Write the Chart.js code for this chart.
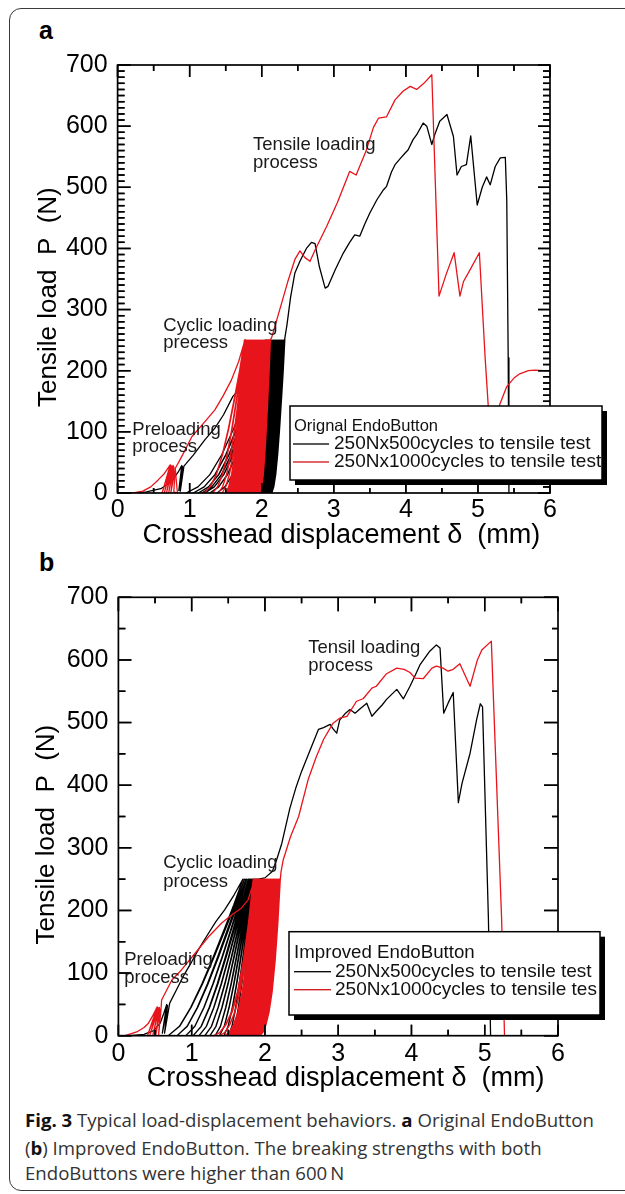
<!DOCTYPE html>
<html>
<head>
<meta charset="utf-8">
<script src="https://cdn.jsdelivr.net/npm/chart.js@4.4.0/dist/chart.umd.min.js"></script>
<style>
  html, body { margin: 0; padding: 0; background: #fff; overflow: hidden; }
  body { width: 625px; height: 1194px; position: relative; }
  #frame { position: absolute; left: 9px; top: 8px; width: 660px; height: 1181px; border: 1.5px solid #3a3a3a; border-radius: 12px; }
  canvas { position: absolute; left: 0; }
  #cA { top: 0; }
  #cB { top: 560px; }
  svg.ticks { position: absolute; left: 0; pointer-events: none; }
  .plabel { position: absolute; left: 39px; font: bold 25px "Liberation Sans", Arial, sans-serif; line-height: 28px; color: #000; }
  .cap { position: absolute; left: 25px; white-space: nowrap; font-family: "Open Sans", "Noto Sans", sans-serif; font-size: 17px; line-height: 20px; color: #333; }
  .cap b { font-weight: 700; color: #111; }
</style>
</head>
<body>
<div id="frame"></div>
<div class="plabel" style="top:16px">a</div>
<div class="plabel" style="top:548px">b</div>
<canvas id="cA" width="625" height="560"></canvas>
<canvas id="cB" width="625" height="540"></canvas>
<div class="cap" id="cap1" style="top:1110px"><b>Fig. 3</b> Typical load-displacement behaviors. <b>a</b> Original EndoButton</div>
<div class="cap" id="cap2" style="top:1138px">(<b>b</b>) Improved EndoButton. The breaking strengths with both</div>
<div class="cap" id="cap3" style="top:1163px">EndoButtons were higher than 600&#8201;N</div>
<script>
// ---------- tick labels ----------
const xTickLabels = ['0', '1', '2', '3', '4', '5', '6'];
const yTickLabels = ['0', '100', '200', '300', '400', '500', '600', '700'];
const xMajorTicks = [0, 1, 2, 3, 4, 5, 6];
const xMinorTicks = [0.5, 1.5, 2.5, 3.5, 4.5, 5.5];
const yMajorTicks = [0, 100, 200, 300, 400, 500, 600, 700];
const yMinorTicksA = [];
for (let v = 10; v < 700; v += 10) if (v % 100 !== 0) yMinorTicksA.push(v);
const yMinorTicksB = [50, 150, 250, 350, 450, 550, 650];

// ---------- series names ----------
const legendTitleA = 'Orignal EndoButton';
const legendTitleB = 'Improved EndoButton';
const seriesNamesA = ['250Nx500cycles to tensile test', '250Nx1000cycles to tensile test'];
const seriesNamesB = ['250Nx500cycles to tensile test', '250Nx1000cycles to tensile tes'];

// ---------- cyclic loading ----------
const cyclePeak = 250;
const loopShapeF = [0, 0.15, 0.3, 0.45, 0.6, 0.75, 0.88, 1];
const loopShapePA = [0, 0.04, 0.12, 0.25, 0.42, 0.62, 0.8, 1];
const loopShapePRedB = [0, 0.02, 0.07, 0.15, 0.28, 0.48, 0.72, 1];
const loopShapePBlackB = [0, 0.06, 0.18, 0.33, 0.5, 0.68, 0.84, 1];

// ---------- panel a : black (500 cycles) ----------
const blackPreA = [[0,0],[0.20,0],[0.40,2],[0.60,7],[0.74,18],[0.84,34],[0.89,45],[0.85,4],[0.90,43],[0.87,3],[0.92,44],[0.95,48],[1.05,62],[1.21,87],[1.35,106],[1.47,128],[1.60,158],[1.68,168],[1.80,192],[1.92,220],[2.05,250]];
const blackCycleStartA = [0.95,1.05,1.12,1.17,1.21,1.28,1.38,1.50,1.65,1.80,1.93,1.94,1.95,1.96,1.97,1.97,1.98,1.99,2.00,2.01,2.01,2.02,2.03,2.04,2.05,2.05,2.06,2.07,2.08,2.09,2.09,2.10,2.11,2.12,2.13,2.14];
const blackCycleTopA = [2.05,2.06,2.07,2.08,2.09,2.10,2.10,2.11,2.11,2.12,2.12,2.13,2.14,2.15,2.16,2.16,2.17,2.18,2.19,2.20,2.20,2.21,2.22,2.23,2.24,2.24,2.25,2.26,2.27,2.28,2.28,2.29,2.30,2.31,2.32,2.32];
const blackTensileA = [[2.32,253],[2.35,275],[2.40,320],[2.46,360],[2.53,379],[2.62,400],[2.69,410],[2.74,408],[2.80,370],[2.88,335],[2.92,338],[3.02,365],[3.13,392],[3.22,410],[3.29,422],[3.36,420],[3.43,440],[3.50,458],[3.60,480],[3.69,496],[3.73,501],[3.80,525],[3.85,537],[3.93,548],[3.99,556],[4.03,561],[4.10,578],[4.15,586],[4.24,605],[4.29,600],[4.36,570],[4.40,586],[4.47,608],[4.57,619],[4.66,583],[4.71,520],[4.77,534],[4.84,537],[4.90,584],[4.99,471],[5.06,500],[5.12,517],[5.17,504],[5.24,534],[5.31,548],[5.38,549],[5.40,479],[5.42,221],[5.43,0]];

// ---------- panel a : red (1000 cycles) ----------
const redPreA = [[0,0],[0.22,0],[0.35,3],[0.46,10],[0.56,21],[0.65,32],[0.73,46],[0.62,1],[0.74,45],[0.65,1],[0.75,44],[0.68,1],[0.77,45],[0.71,1],[0.78,43],[0.74,1],[0.80,41],[0.78,2],[0.83,0],[0.80,40],[0.90,62],[1.03,92],[1.20,115],[1.35,136],[1.47,160],[1.58,185],[1.68,215],[1.77,251]];
const redCycleStartA = [1.20,1.32,1.40,1.45,1.50,1.52,1.54,1.56,1.58,1.60,1.62,1.63,1.65,1.66,1.68,1.69,1.71,1.72,1.73,1.75,1.76,1.77,1.78,1.79,1.81,1.82,1.83,1.84,1.85,1.86,1.87,1.88,1.89,1.90,1.91,1.92,1.93,1.94,1.95,1.96,1.97,1.98];
const redCycleTopA = [1.76,1.77,1.78,1.79,1.77,1.78,1.79,1.80,1.81,1.82,1.83,1.84,1.85,1.86,1.87,1.88,1.89,1.90,1.91,1.92,1.93,1.94,1.95,1.96,1.97,1.98,1.99,2.00,2.01,2.02,2.03,2.04,2.05,2.06,2.07,2.07,2.08,2.09,2.10,2.10,2.11,2.12];
const redTensileA = [[2.14,255],[2.25,300],[2.36,345],[2.46,382],[2.53,396],[2.60,385],[2.67,379],[2.75,400],[2.90,436],[3.05,475],[3.22,526],[3.31,520],[3.45,560],[3.55,598],[3.62,613],[3.73,615],[3.85,643],[3.96,657],[4.06,665],[4.15,660],[4.25,670],[4.36,684],[4.46,322],[4.56,358],[4.67,393],[4.75,322],[4.80,346],[4.89,365],[5.02,393],[5.10,221],[5.15,130],[5.22,60],[5.30,144],[5.40,174],[5.50,188],[5.58,195],[5.70,200],[5.79,201],[5.90,200],[6.00,200]];

// ---------- panel b : black (500 cycles) ----------
const blackPreB = [[0,0],[0.15,0],[0.35,2],[0.48,8],[0.57,20],[0.62,36],[0.66,50],[0.60,4],[0.67,48],[0.63,4],[0.70,52],[0.80,75],[0.90,98],[1.00,118],[1.09,137],[1.20,158],[1.33,182],[1.45,201],[1.58,225],[1.70,250]];
const blackCycleStartB = [0.68,0.80,0.92,1.02,1.10,1.18,1.25,1.32,1.38,1.44,1.50,1.55,1.60,1.64,1.68,1.72,1.76,1.80];
const blackCycleTopB = [1.72,1.74,1.75,1.77,1.78,1.79,1.80,1.81,1.82,1.83,1.84,1.85,1.86,1.87,1.88,1.89,1.90,1.91];
const blackTensileB = [[2.00,252],[2.10,262],[2.16,281],[2.23,307],[2.34,363],[2.42,395],[2.50,422],[2.62,457],[2.73,489],[2.80,492],[2.89,497],[2.93,490],[2.98,483],[3.02,504],[3.10,515],[3.16,521],[3.23,515],[3.30,522],[3.39,531],[3.46,510],[3.52,518],[3.60,528],[3.66,537],[3.73,545],[3.80,553],[3.89,538],[3.98,558],[4.05,575],[4.12,593],[4.25,614],[4.34,624],[4.39,619],[4.44,515],[4.50,531],[4.57,548],[4.64,372],[4.69,403],[4.80,451],[4.89,505],[4.94,530],[4.97,525],[5.05,188],[5.08,0]];

// ---------- panel b : red (1000 cycles) ----------
const redPreB = [[0,0],[0.09,0],[0.25,6],[0.35,13],[0.41,20],[0.47,32],[0.53,46],[0.40,1],[0.54,45],[0.43,1],[0.55,44],[0.47,1],[0.56,45],[0.51,1],[0.57,42],[0.55,2],[0.58,40],[0.59,57],[0.73,89],[0.86,105],[1.05,132],[1.23,158],[1.41,180],[1.55,193],[1.68,204],[1.77,217],[1.86,250]];
const redCycleStartB = [1.30,1.38,1.45,1.47,1.49,1.51,1.53,1.55,1.57,1.59,1.61,1.63,1.64,1.66,1.67,1.69,1.70,1.72,1.73,1.74,1.76,1.77,1.78,1.79,1.80,1.81,1.82,1.83,1.84,1.85,1.86,1.87,1.88,1.89,1.90,1.91,1.92,1.93];
const redCycleTopB = [1.84,1.85,1.86,1.87,1.88,1.89,1.90,1.91,1.92,1.93,1.94,1.95,1.96,1.97,1.98,1.99,2.00,2.01,2.02,2.03,2.04,2.05,2.06,2.07,2.08,2.09,2.10,2.11,2.12,2.13,2.14,2.15,2.16,2.17,2.18,2.19,2.20,2.21];
const redTensileB = [[2.22,262],[2.25,281],[2.35,318],[2.46,350],[2.59,409],[2.70,445],[2.80,473],[2.93,499],[3.02,507],[3.12,510],[3.25,534],[3.34,538],[3.46,555],[3.52,558],[3.66,578],[3.80,587],[3.90,585],[3.98,580],[4.05,571],[4.16,570],[4.28,587],[4.34,590],[4.43,587],[4.50,582],[4.57,585],[4.66,594],[4.80,558],[4.90,600],[4.96,616],[5.09,630],[5.23,188],[5.27,0]];

// ---------- build paths ----------
function cyclePath(pre, starts, tops, shapeP, tensile) {
  const pts = pre.map(p => ({x: p[0], y: p[1]}));
  let prevTop = pre[pre.length - 1][0];
  const n = Math.min(starts.length, tops.length);
  for (let i = 0; i < n; i++) {
    const x0 = starts[i], x1 = tops[i];
    for (let k = loopShapeF.length - 2; k >= 0; k--)
      pts.push({x: x0 + (prevTop - x0) * loopShapeF[k], y: cyclePeak * shapeP[k]});
    for (let k = 1; k < loopShapeF.length; k++)
      pts.push({x: x0 + (x1 - x0) * loopShapeF[k], y: cyclePeak * shapeP[k]});
    prevTop = x1;
  }
  tensile.forEach(p => pts.push({x: p[0], y: p[1]}));
  return pts;
}

const RED = '#e8141c';
const FONT = '"Liberation Sans", Arial, Helvetica, sans-serif';
const TICK_W = 1.5;

// inward tick segments, computed from the chart's own scales
function tickSegments(chart, cfg) {
  const a = chart.chartArea;
  const xs = chart.scales.x, ys = chart.scales.y;
  const T = cfg.tickLen;
  const segs = [];
  xMajorTicks.forEach(v => { const p = xs.getPixelForValue(v); segs.push([p, a.bottom, p, a.bottom - T[0]], [p, a.top, p, a.top + T[2]]); });
  xMinorTicks.forEach(v => { const p = xs.getPixelForValue(v); segs.push([p, a.bottom, p, a.bottom - T[1]], [p, a.top, p, a.top + T[3]]); });
  yMajorTicks.forEach(v => { const p = ys.getPixelForValue(v); segs.push([a.left, p, a.left + T[4], p], [a.right, p, a.right - T[6], p]); });
  cfg.yMinor.forEach(v => { const p = ys.getPixelForValue(v); segs.push([a.left, p, a.left + T[5], p], [a.right, p, a.right - T[7], p]); });
  const G = cfg.legend;
  const inside = (x, y) => x >= G.x - 1 && x <= G.x + G.w + G.sx + 1 && y >= G.y - 1 && y <= G.y + G.h + G.sy + 1;
  return segs.filter(s => !(inside(s[0], s[1]) && inside(s[2], s[3])));
}

function makeDecor(cfg) {
  return {
    id: 'decor',
    afterDraw(chart) {
      const ctx = chart.ctx;
      const a = chart.chartArea;
      const xs = chart.scales.x, ys = chart.scales.y;
      ctx.save();
      ctx.strokeStyle = '#000';
      ctx.lineWidth = TICK_W;
      ctx.beginPath();
      tickSegments(chart, cfg).forEach(s => { ctx.moveTo(s[0], s[1]); ctx.lineTo(s[2], s[3]); });
      ctx.stroke();
      ctx.lineWidth = 1.7;
      ctx.strokeRect(a.left, a.top, a.right - a.left, a.bottom - a.top);

      // annotations
      ctx.fillStyle = '#1a1a1a';
      ctx.font = '18.5px ' + FONT;
      ctx.textBaseline = 'middle';
      ctx.textAlign = 'left';
      cfg.notes.forEach(n => ctx.fillText(n.text, xs.getPixelForValue(n.x), ys.getPixelForValue(n.y)));

      // legend box
      const G = cfg.legend;
      ctx.fillStyle = '#000';
      ctx.fillRect(G.x + G.sx, G.y + G.sy, G.w, G.h);
      ctx.fillStyle = '#fff';
      ctx.fillRect(G.x, G.y, G.w, G.h);
      ctx.lineWidth = 1.5;
      ctx.strokeStyle = '#000';
      ctx.strokeRect(G.x, G.y, G.w, G.h);
      ctx.save();
      ctx.beginPath();
      ctx.rect(G.x + 1, G.y + 1, G.w - 2, G.h - 2);
      ctx.clip();
      ctx.fillStyle = '#111';
      ctx.font = G.titleSize + 'px ' + FONT;
      ctx.fillText(G.title, G.tx, G.ty);
      ctx.font = G.entrySize + 'px ' + FONT;
      G.entries.forEach((e, i) => {
        const yy = G.ey[i];
        ctx.fillStyle = e.color;
        ctx.fillRect(G.lx0, yy - 0.65, G.lx1 - G.lx0, 1.3);
        ctx.fillStyle = '#111';
        ctx.fillText(e.text, G.ex, yy);
      });
      ctx.restore();
      ctx.restore();
    }
  };
}

// vector copy of the same tick marks laid over the canvas
function tickOverlay(chart, cfg, top) {
  const NS = 'http://www.w3.org/2000/svg';
  const svg = document.createElementNS(NS, 'svg');
  svg.setAttribute('class', 'ticks');
  svg.setAttribute('width', chart.width);
  svg.setAttribute('height', chart.height);
  svg.style.top = top + 'px';
  tickSegments(chart, cfg).forEach(s => {
    const l = document.createElementNS(NS, 'line');
    l.setAttribute('x1', s[0]); l.setAttribute('y1', s[1]);
    l.setAttribute('x2', s[2]); l.setAttribute('y2', s[3]);
    l.setAttribute('stroke', '#000');
    l.setAttribute('stroke-width', String(TICK_W));
    svg.appendChild(l);
  });
  document.body.appendChild(svg);
}

function makeChart(id, P) {
  return new Chart(document.getElementById(id), {
    type: 'scatter',
    data: {
      datasets: [
        {data: P.red, borderColor: RED, borderWidth: 1.3, showLine: true, pointRadius: 0, tension: 0, fill: false, borderJoinStyle: 'round'},
        {data: P.black, borderColor: '#000', borderWidth: 1.3, showLine: true, pointRadius: 0, tension: 0, fill: false, borderJoinStyle: 'round'}
      ]
    },
    options: {
      responsive: false,
      maintainAspectRatio: false,
      animation: false,
      events: [],
      layout: {padding: {top: P.padTop, right: P.padRight, bottom: 0, left: 0}},
      plugins: {legend: {display: false}, tooltip: {enabled: false}},
      scales: {
        x: {
          type: 'linear', min: 0, max: 6,
          afterFit: s => { s.height = P.xHeight; },
          grid: {display: false, drawTicks: false},
          border: {display: false},
          ticks: {stepSize: 1, autoSkip: false, maxRotation: 0, padding: P.xTickPad, color: '#000',
                  font: {family: FONT, size: 25}, callback: (v, i) => xTickLabels[i]},
          title: {display: true, text: '  Crosshead displacement \u03b4  (mm)', color: '#000',
                  font: {family: FONT, size: 27}, padding: {top: 0, bottom: P.xTitlePad}}
        },
        y: {
          type: 'linear', min: 0, max: 700,
          afterFit: s => { s.width = P.yWidth; },
          grid: {display: false, drawTicks: false},
          border: {display: false},
          ticks: {stepSize: 100, autoSkip: false, padding: 10, color: '#000',
                  font: {family: FONT, size: 25}, callback: (v, i) => yTickLabels[i]},
          title: {display: true, text: 'Tensile load  P  (N)     ', color: '#000',
                  font: {family: FONT, size: 26}, padding: {top: P.yTitlePad, bottom: 0}}
        }
      }
    },
    plugins: [makeDecor(P.decor)]
  });
}

const decorA = {
  yMinor: yMinorTicksA,
  tickLen: [10, 5, 12, 6, 13, 7, 12, 7],
  notes: [
    {text: 'Tensile loading', x: 1.88, y: 570}, {text: 'process', x: 1.88, y: 540},
    {text: 'Cyclic loading', x: 0.634, y: 273}, {text: 'precess', x: 0.634, y: 245.5},
    {text: 'Preloading', x: 0.204, y: 104}, {text: 'process', x: 0.204, y: 76}
  ],
  legend: {
    x: 290, y: 406, w: 312, h: 74, sx: 5, sy: 5,
    title: legendTitleA, titleSize: 16.5, tx: 294, ty: 426,
    entrySize: 19, lx0: 293, lx1: 329, ex: 334, ey: [444, 462],
    entries: [{text: seriesNamesA[0], color: '#000'}, {text: seriesNamesA[1], color: '#d0121b'}]
  }
};
const decorB = {
  yMinor: yMinorTicksB,
  tickLen: [11, 6, 14, 6, 13, 7, 14, 6],
  notes: [
    {text: 'Tensil loading', x: 2.59, y: 619}, {text: 'process', x: 2.59, y: 590},
    {text: 'Cyclic loading', x: 0.613, y: 275.5}, {text: 'process', x: 0.613, y: 246},
    {text: 'Preloading', x: 0.08, y: 121}, {text: 'process', x: 0.08, y: 92}
  ],
  legend: {
    x: 289, y: 371.7, w: 311, h: 83.3, sx: 5, sy: 5,
    title: legendTitleB, titleSize: 18.7, tx: 294, ty: 392.7,
    entrySize: 19, lx0: 294, lx1: 331, ex: 335, ey: [411.7, 429.7],
    entries: [{text: seriesNamesB[0], color: '#000'}, {text: seriesNamesB[1], color: '#d0121b'}]
  }
};

const chartA = makeChart('cA', {
  red: cyclePath(redPreA, redCycleStartA, redCycleTopA, loopShapePA, redTensileA),
  black: cyclePath(blackPreA, blackCycleStartA, blackCycleTopA, loopShapePA, blackTensileA),
  padTop: 65, padRight: 75, xHeight: 67, yWidth: 117.6, xTickPad: 2, xTitlePad: 8, yTitlePad: 33,
  decor: decorA
});

const chartB = makeChart('cB', {
  red: cyclePath(redPreB, redCycleStartB, redCycleTopB, loopShapePRedB, redTensileB),
  black: cyclePath(blackPreB, blackCycleStartB, blackCycleTopB, loopShapePBlackB, blackTensileB),
  padTop: 37.3, padRight: 67, xHeight: 64.3, yWidth: 118.4, xTickPad: 3, xTitlePad: 5, yTitlePad: 31,
  decor: decorB
});

tickOverlay(chartA, decorA, 0);
tickOverlay(chartB, decorB, 560);

// fit caption width to the reference line length
(function () {
  const c1 = document.getElementById('cap1');
  const w = c1.getBoundingClientRect().width;
  if (w > 0) {
    const fs = 17 * 569 / w;
    ['cap1', 'cap2', 'cap3'].forEach(id => { document.getElementById(id).style.fontSize = fs.toFixed(2) + 'px'; });
  }
})();
</script>
</body>
</html>
